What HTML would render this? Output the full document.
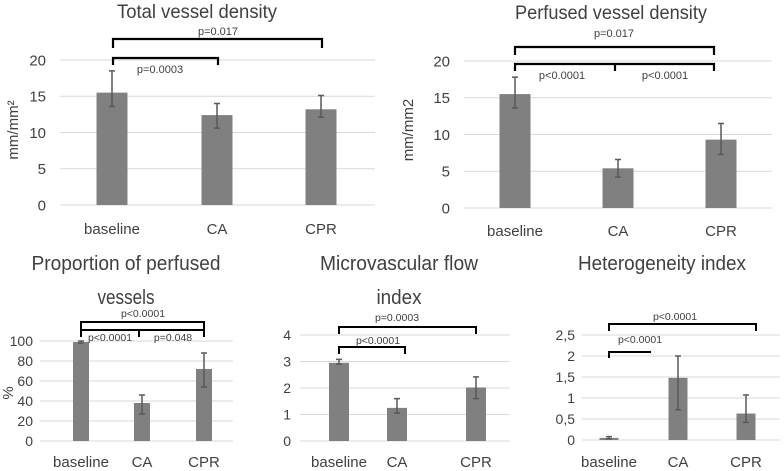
<!DOCTYPE html>
<html><head><meta charset="utf-8"><style>
body{margin:0;background:#fff;width:784px;height:471px;overflow:hidden}
svg{display:block;font-family:"Liberation Sans",sans-serif}
</style></head><body>
<svg id="s" width="784" height="471"></svg>
<script>
const categories=["baseline","CA","CPR"];
const tvdValues=[15.5,12.4,13.2];const tvdLow=[13.6,10.6,12.1];const tvdHigh=[18.5,14.0,15.1];
const pvdValues=[15.5,5.4,9.3];const pvdLow=[13.6,4.2,7.3];const pvdHigh=[17.8,6.6,11.5];
const ppvValues=[99,38,72];const ppvLow=[98,27,54];const ppvHigh=[100,46,88];
const mfiValues=[2.95,1.25,2.02];const mfiLow=[2.9,1.05,1.6];const mfiHigh=[3.08,1.6,2.42];
const hiValues=[0.05,1.48,0.63];const hiLow=[0.03,0.72,0.42];const hiHigh=[0.08,2.0,1.07];
const tvdTicks=["0","5","10","15","20"];const pvdTicks=["0","5","10","15","20"];
const ppvTicks=["0","20","40","60","80","100"];const mfiTicks=["0","1","2","3","4"];
const hiTicks=["0","0,5","1","1,5","2","2,5"];
const S=document.getElementById('s');const NS='http://www.w3.org/2000/svg';
function el(t,a,txt){const e=document.createElementNS(NS,t);for(const k in a)e.setAttribute(k,a[k]);if(txt!=null)e.textContent=txt;S.appendChild(e);return e;}
function panel(p){
 const max=p.max,y=v=>p.y0-(v/max)*(p.y0-p.yTop);
 p.ticks.forEach((t,i)=>{const v=max*i/(p.ticks.length-1);
  const g=el('line',{x1:p.xl,x2:p.xr,y1:y(v),y2:y(v),stroke:'#d9d9d9','stroke-width':1});
  
  const l=el('text',{x:p.tx,y:y(v)+p.fs*0.36,'text-anchor':'end','font-size':p.fs,fill:'#404040'},t);
  });
 p.vals.forEach((v,i)=>{const cx=p.cx[i];
  const b=el('rect',{x:cx-p.bw/2,y:y(v),width:p.bw,height:p.y0-y(v),fill:'#808080'});
  
  const e=el('path',{d:`M${cx},${y(p.lo[i])}V${y(p.hi[i])}M${cx-3},${y(p.lo[i])}h6M${cx-3},${y(p.hi[i])}h6`,stroke:'#595959','stroke-width':1.5,fill:'none'});
  
  const l=el('text',{x:cx,y:p.xly,'text-anchor':'middle','font-size':p.xfs,fill:'#404040'},categories[i]);
  });
 p.title.forEach((t,i)=>{const e=el('text',{x:p.titleX,y:p.titleY+i*p.tlh,'text-anchor':'middle','font-size':p.tfs,fill:'#404040',textLength:p.tw[i],lengthAdjust:'spacingAndGlyphs'},t);
  });
 if(p.ytitle){const e=el('text',{x:0,y:0,transform:`translate(${p.ytitle[0]},${p.ytitle[1]}) rotate(-90)`,'text-anchor':'middle','font-size':p.xfs,fill:'#404040'},p.ytitle[2]);
  }
 p.brackets.forEach(b=>{const e=el('path',{d:b,stroke:'#000','stroke-width':p.bs,fill:'none'});
  });
 p.labels.forEach(b=>{const e=el('text',{x:b[0],y:b[1],'text-anchor':'middle','font-size':p.pfs,fill:'#404040'},b[2]);
  });
}
panel({max:20,ticks:tvdTicks,y0:205,yTop:60,xl:60,xr:375,tx:46,fs:15,xfs:15,vals:tvdValues,lo:tvdLow,hi:tvdHigh,cx:[112,217,321],bw:31,xly:234,
 title:["Total vessel density"],tw:[160],titleX:197,titleY:18,tlh:0,tfs:19,ytitle:[18,130,"mm/mm²"],bs:2.2,pfs:11,
 brackets:["M113,48V39H322V48","M113,65V58H218V65"],labels:[[218,35,"p=0.017"],[160,73,"p=0.0003"]]});
panel({max:20,ticks:pvdTicks,y0:208,yTop:61,xl:464,xr:772,tx:450,fs:15,xfs:15,vals:pvdValues,lo:pvdLow,hi:pvdHigh,cx:[515,618,721],bw:31,xly:236,
 title:["Perfused vessel density"],tw:[192],titleX:611,titleY:19,tlh:0,tfs:19,ytitle:[413,130,"mm/mm2"],bs:2.2,pfs:11,
 brackets:["M515,55V47H714V55","M515,71V64H714V71M615,64V71"],labels:[[614,37,"p=0.017"],[562,79,"p<0.0001"],[665,79,"p<0.0001"]]});
panel({max:100,ticks:ppvTicks,y0:441,yTop:341,xl:40,xr:233,tx:33,fs:14,xfs:15,vals:ppvValues,lo:ppvLow,hi:ppvHigh,cx:[81,142,204],bw:16,xly:467,
 title:["Proportion of perfused","vessels"],tw:[189,57],titleX:126,titleY:270,tlh:34,tfs:20,ytitle:[13,393,"%"],bs:2,pfs:10.5,
 brackets:["M81,330V322H204V330","M81,337V330H204V337M139,330V337"],labels:[[143,317,"p<0.0001"],[110,341,"p<0.0001"],[173,341,"p=0.048"]]});
panel({max:4,ticks:mfiTicks,y0:441,yTop:335,xl:300,xr:510,tx:291,fs:14,xfs:15,vals:mfiValues,lo:mfiLow,hi:mfiHigh,cx:[339,397,476],bw:20,xly:467,
 title:["Microvascular flow","index"],tw:[158,45],titleX:399,titleY:270,tlh:34,tfs:20,ytitle:null,bs:2,pfs:10.5,
 brackets:["M339,334V327H476V334","M339,354V347H405V354"],labels:[[397,321,"p=0.0003"],[378,344,"p<0.0001"]]});
panel({max:2.5,ticks:hiTicks,y0:440,yTop:335,xl:582,xr:780,tx:575,fs:14,xfs:15,vals:hiValues,lo:hiLow,hi:hiHigh,cx:[609,678,746],bw:19,xly:467,
 title:["Heterogeneity index"],tw:[168],titleX:662,titleY:270,tlh:0,tfs:20,ytitle:null,bs:2,pfs:10.5,
 brackets:["M609,331V324H756V331","M609,358V352H651"],labels:[[675,320,"p<0.0001"],[640,343,"p<0.0001"]]});
</script>
</body></html>
